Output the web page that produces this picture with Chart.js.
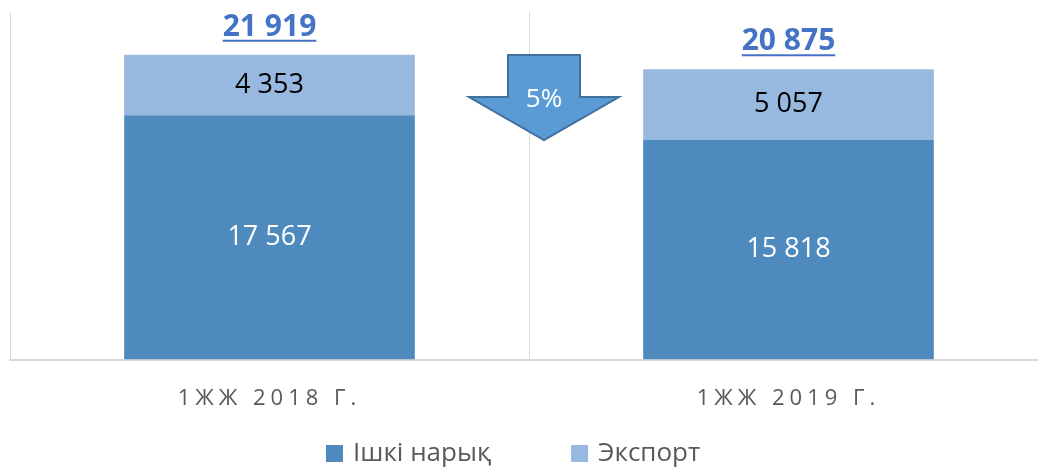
<!DOCTYPE html>
<html>
<head>
<meta charset="utf-8">
<script src="https://cdn.jsdelivr.net/npm/chart.js@4.4.0/dist/chart.umd.min.js"></script>
<style>
    html, body { margin: 0; padding: 0; background: #fff; overflow: hidden; }
    #wrap { width: 1050px; height: 467px; position: relative; }
</style>
</head>
<body>
<div id="wrap"><canvas id="salesChart"></canvas></div>
<script>
const categories = ['1ЖЖ 2018 Г.', '1ЖЖ 2019 Г.'];
const domesticValues = [17567, 15818];
const exportValues = [4353, 5057];
const totals = [21919, 20875];
const seriesNames = ['Ішкі нарық', 'Экспорт'];

const COLORS = {
    domestic: '#4F8ABE',
    export: '#97B9E0',
    total: '#4472C4',
    grid: '#D9D9D9',
    text: '#595959',
    arrowFill: '#5B9BD5',
    arrowStroke: '#41719C'
};
const FONT = '"Open Sans", "DejaVu Sans", sans-serif';

// 17567 -> "17 567"
function fmt(v) {
    return String(v).replace(/\B(?=(\d{3})+(?!\d))/g, ' ');
}

// letter spacing only for the category axis labels
const spacingPlugin = {
    id: 'spacing',
    beforeDraw(chart) { chart.ctx.letterSpacing = '5px'; },
    beforeDatasetsDraw(chart) { chart.ctx.letterSpacing = '0px'; }
};

const labelsPlugin = {
    id: 'labels',
    afterDatasetsDraw(chart) {
        const ctx = chart.ctx;
        ctx.save();
        ctx.textAlign = 'center';
        ctx.textBaseline = 'middle';
        ctx.font = '27px ' + FONT;
        chart.data.datasets.forEach((ds, i) => {
            const meta = chart.getDatasetMeta(i);
            meta.data.forEach((bar, j) => {
                const mid = (bar.y + bar.base) / 2;
                ctx.fillStyle = i === 0 ? '#FFFFFF' : '#000000';
                ctx.fillText(fmt(ds.data[j]), bar.x, mid);
            });
        });

        // totals above the stacks
        const top = chart.getDatasetMeta(1);
        ctx.font = 'bold 30px ' + FONT;
        ctx.fillStyle = COLORS.total;
        ctx.strokeStyle = COLORS.total;
        ctx.lineWidth = 2;
        ctx.textBaseline = 'alphabetic';
        top.data.forEach((bar, j) => {
            const txt = fmt(totals[j]);
            const baseY = bar.y - 19;
            ctx.fillText(txt, bar.x, baseY);
            const w = ctx.measureText(txt).width;
            ctx.beginPath();
            ctx.moveTo(bar.x - w / 2, baseY + 5);
            ctx.lineTo(bar.x + w / 2, baseY + 5);
            ctx.stroke();
        });
        ctx.restore();
    }
};

const arrowPlugin = {
    id: 'arrow',
    afterDraw(chart) {
        const ctx = chart.ctx;
        const xs = chart.scales.x;
        const area = chart.chartArea;
        const cx = (xs.getPixelForValue(0) + xs.getPixelForValue(1)) / 2 + 15;
        const top = area.top + 43;
        const shoulder = area.top + 85;
        const tip = area.top + 128;
        ctx.save();
        ctx.beginPath();
        ctx.moveTo(cx - 36, top);
        ctx.lineTo(cx + 36, top);
        ctx.lineTo(cx + 36, shoulder);
        ctx.lineTo(cx + 75, shoulder);
        ctx.lineTo(cx, tip);
        ctx.lineTo(cx - 75, shoulder);
        ctx.lineTo(cx - 36, shoulder);
        ctx.closePath();
        ctx.fillStyle = COLORS.arrowFill;
        ctx.fill();
        ctx.strokeStyle = COLORS.arrowStroke;
        ctx.lineWidth = 2;
        ctx.stroke();

        const change = Math.round((totals[0] - totals[1]) / totals[0] * 100);
        ctx.fillStyle = '#FFFFFF';
        ctx.font = '26px ' + FONT;
        ctx.textAlign = 'center';
        ctx.textBaseline = 'middle';
        ctx.fillText(change + '%', cx, area.top + 88);
        ctx.restore();
    }
};

const legendPlugin = {
    id: 'bottomLegend',
    afterDraw(chart) {
        const ctx = chart.ctx;
        ctx.save();
        ctx.font = '26px ' + FONT;
        ctx.textBaseline = 'middle';
        ctx.textAlign = 'left';
        let x = 326;
        const y = 445;
        chart.data.datasets.forEach(ds => {
            ctx.fillStyle = ds.backgroundColor;
            ctx.fillRect(x, y, 17, 17);
            ctx.fillStyle = COLORS.text;
            ctx.fillText(ds.label, x + 27, y + 9);
            x += 27 + ctx.measureText(ds.label).width + 80;
        });
        ctx.restore();
    }
};

const ctx = document.getElementById('salesChart');
new Chart(ctx, {
    type: 'bar',
    data: {
        labels: categories,
        datasets: [
            {
                label: seriesNames[0],
                data: domesticValues,
                backgroundColor: COLORS.domestic,
                barPercentage: 0.56,
                categoryPercentage: 1
            },
            {
                label: seriesNames[1],
                data: exportValues,
                backgroundColor: COLORS.export,
                barPercentage: 0.56,
                categoryPercentage: 1
            }
        ]
    },
    options: {
        responsive: true,
        maintainAspectRatio: false,
        animation: false,
        layout: {
            padding: { left: 10, top: 12, right: 2, bottom: 29 }
        },
        plugins: {
            legend: { display: false },
            tooltip: { enabled: false }
        },
        scales: {
            x: {
                stacked: true,
                grid: {
                    color: COLORS.grid,
                    lineWidth: 1,
                    drawTicks: false,
                    offset: true
                },
                border: { color: COLORS.grid, width: 2 },
                ticks: {
                    color: COLORS.text,
                    font: { family: FONT, size: 22 },
                    padding: 26
                }
            },
            y: {
                stacked: true,
                display: false,
                min: 0,
                max: 25000
            }
        }
    },
    plugins: [spacingPlugin, labelsPlugin, arrowPlugin, legendPlugin]
});
</script>
</body>
</html>
